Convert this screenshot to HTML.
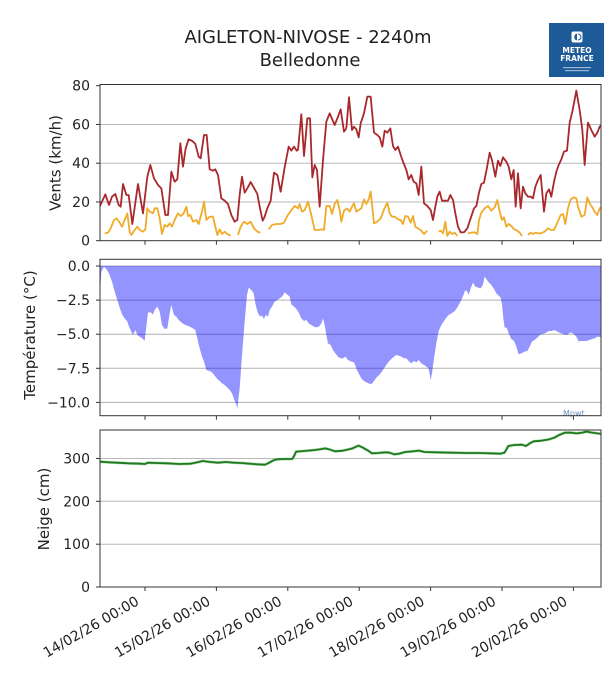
<!DOCTYPE html>
<html><head><meta charset="utf-8"><style>
html,body{margin:0;padding:0;background:#fff;}
svg{display:block;}
text{font-family:"DejaVu Sans","Liberation Sans",sans-serif;fill:#222;}
</style></head><body>
<svg width="611" height="682" viewBox="0 0 611 682" xmlns="http://www.w3.org/2000/svg">
<defs>
<clipPath id="c1"><rect x="100" y="84.5" width="501" height="156.2"/></clipPath>
<clipPath id="c2"><rect x="100" y="259.3" width="501" height="156.4"/></clipPath>
<clipPath id="c3"><rect x="100" y="430" width="501" height="157"/></clipPath>
</defs>
<rect width="611" height="682" fill="#fff"/>

<!-- Title -->
<text x="308" y="43" font-size="18" text-anchor="middle">AIGLETON-NIVOSE - 2240m</text>
<text x="310" y="66" font-size="18" text-anchor="middle">Belledonne</text>

<!-- Logo -->
<rect x="549" y="23" width="55" height="54" fill="#1d5a98"/>
<rect x="571.5" y="31.5" width="11" height="11" rx="2" fill="#fff"/>
<path d="M577,33.5 A3.6,3.6 0 0 0 577,40.5 Z" fill="#1d5a98"/>
<path d="M578,34 A3,3 0 0 1 578,40" fill="none" stroke="#1d5a98" stroke-width="1"/>
<text x="577" y="53" font-size="7.5" font-weight="bold" text-anchor="middle" style="fill:#fff">METEO</text>
<text x="577" y="61" font-size="7.5" font-weight="bold" text-anchor="middle" style="fill:#fff">FRANCE</text>
<rect x="563" y="67" width="28" height="1.2" fill="#9fb8d8"/>
<rect x="565" y="70" width="24" height="1.2" fill="#9fb8d8"/>

<!-- ===== Panel 1: Vents ===== -->
<g stroke="#b8b8b8" stroke-width="1">
<line x1="100" y1="201.95" x2="601" y2="201.95"/>
<line x1="100" y1="163.2" x2="601" y2="163.2"/>
<line x1="100" y1="124.45" x2="601" y2="124.45"/>
</g>
<g clip-path="url(#c1)" fill="none" stroke-linejoin="round">
<g transform="translate(98,80) scale(0.33333)">
<path vector-effect="non-scaling-stroke" stroke="#a8282c" stroke-width="1.8" d="M5,380 L22,343 33,375 42,350 52,342 62,375 68,380 75,312 85,345 92,345 103,432 120,312 135,400 148,290 157,255 168,295 180,315 190,325 202,405 210,405 220,275 230,305 238,298 247,190 255,260 263,205 272,178 283,183 292,192 302,230 308,235 318,165 326,165 335,268 345,272 352,268 360,285 370,355 380,362 390,372 400,405 410,425 418,420 425,345 432,290 440,338 448,325 458,306 467,322 478,342 486,385 494,422 500,410 508,385 518,362 528,278 538,285 548,335 560,262 572,200 580,212 588,200 596,212 600,210 610,103 618,228 628,115 636,115 643,292 650,255 657,270 665,380 675,240 685,125 695,100 710,135 720,110 728,88 738,155 745,145"/>
<path vector-effect="non-scaling-stroke" stroke="#f0ab2a" stroke-width="1.8" d="M20,460 L30,458 38,445 48,420 56,415 65,428 72,440 80,420 88,400 95,455 100,465 110,450 118,440 125,450 135,455 142,448 148,385 155,395 165,400 170,385 178,385 185,415 192,462 200,435 208,440 215,430 222,440 230,420 240,400 248,408 256,402 265,380 270,408 277,405 285,425 295,420 302,432 312,395 318,365 325,420 335,410 345,410 352,440 358,465 365,448 372,462 380,455 388,462 398,467 M420,465 L428,440 438,425 448,432 458,425 468,445 478,455 487,458 M512,448 L522,435 535,432 548,432 558,428 568,408 580,390 590,378 600,385 605,372 612,395 620,390 630,365 640,405 650,450 660,450 670,448 678,450 685,378 695,378 702,402 710,372 718,360 725,390 730,425 738,392 748,385"/>
</g>
<g transform="translate(348,80) scale(0.33333)">
<path vector-effect="non-scaling-stroke" stroke="#a8282c" stroke-width="1.8" d="M-5,145 L3,52 12,150 18,140 25,148 32,172 38,130 48,100 58,50 68,50 78,158 88,165 95,172 103,200 110,152 118,158 127,145 135,198 142,210 150,200 158,225 165,245 175,270 182,298 190,285 197,305 205,310 212,345 220,260 228,370 238,378 248,390 255,420 262,380 268,350 275,335 282,362 290,362 300,362 307,345 315,360 322,400 330,440 338,457 348,457 358,445 368,415 378,385 385,378 393,338 400,312 408,308 416,268 425,218 432,240 442,290 450,242 457,258 465,232 475,245 482,260 490,298 497,270 503,380 510,280 518,385 525,320 532,340 540,350 548,350 555,355 562,320 570,300 578,285 588,395 595,340 603,328 610,350 618,305 625,275 632,255 640,238 648,215 657,212 665,128 673,95 685,32 695,90 703,150 710,255 720,128 730,150 740,170 748,158 755,140 765,130"/>
<path vector-effect="non-scaling-stroke" stroke="#f0ab2a" stroke-width="1.8" d="M-2,385 L5,395 12,380 18,370 25,395 32,390 40,385 48,358 55,372 62,358 68,335 78,430 88,425 98,415 108,388 118,368 125,400 132,410 140,410 150,418 158,420 165,432 172,408 180,410 188,428 195,408 202,440 210,445 218,450 228,462 238,452 M272,455 L278,452 285,460 292,425 298,468 305,455 312,462 320,458 328,468 M360,460 L370,458 380,457 388,462 393,420 400,398 410,385 420,378 430,392 440,382 448,360 455,395 462,420 468,412 475,440 482,432 490,438 498,448 505,450 515,458 522,468 M540,465 L548,458 555,462 562,458 570,460 578,460 590,455 600,445 610,450 618,450 628,428 638,405 645,402 652,432 660,385 668,358 678,352 685,355 690,380 700,410 710,405 718,352 725,370 733,382 740,395 748,405 755,385 765,380"/>
</g>
</g>
<rect x="100" y="84.5" width="501" height="156.2" fill="none" stroke="#333" stroke-width="1"/>
<g stroke="#333" stroke-width="1">
<line x1="96" y1="240.7" x2="100" y2="240.7"/><line x1="96" y1="201.95" x2="100" y2="201.95"/><line x1="96" y1="163.2" x2="100" y2="163.2"/><line x1="96" y1="124.45" x2="100" y2="124.45"/><line x1="96" y1="85.7" x2="100" y2="85.7"/>
<line x1="145" y1="240.7" x2="145" y2="244.7"/><line x1="216.4" y1="240.7" x2="216.4" y2="244.7"/><line x1="287.8" y1="240.7" x2="287.8" y2="244.7"/><line x1="359.2" y1="240.7" x2="359.2" y2="244.7"/><line x1="430.6" y1="240.7" x2="430.6" y2="244.7"/><line x1="502" y1="240.7" x2="502" y2="244.7"/><line x1="573.4" y1="240.7" x2="573.4" y2="244.7"/>
</g>
<g font-size="14" text-anchor="end">
<text x="90" y="245.7">0</text><text x="90" y="207">20</text><text x="90" y="168.2">40</text><text x="90" y="129.5">60</text><text x="90" y="90.7">80</text>
</g>
<text transform="translate(60.5,163) rotate(-90)" font-size="15" text-anchor="middle">Vents (km/h)</text>

<!-- ===== Panel 2: Température ===== -->
<g stroke="#b0b0b0" stroke-width="1">
<line x1="100" y1="266" x2="601" y2="266"/>
<line x1="100" y1="300.1" x2="601" y2="300.1"/>
<line x1="100" y1="334.2" x2="601" y2="334.2"/>
<line x1="100" y1="368.3" x2="601" y2="368.3"/>
<line x1="100" y1="402.4" x2="601" y2="402.4"/>
</g>
<g clip-path="url(#c2)">
<g transform="translate(98,255) scale(0.33333)">
<path fill="#0000ff" fill-opacity="0.42" d="M5,33 L5,135 10,50 18,35 25,42 33,55 42,80 50,110 58,135 65,158 72,178 80,190 88,200 93,215 100,230 105,240 112,225 118,240 125,245 133,250 140,258 145,215 150,172 158,172 165,178 170,165 178,155 185,170 192,210 200,222 208,220 215,175 220,150 228,180 235,185 242,195 250,202 258,208 268,212 275,215 285,220 292,225 298,250 305,280 312,305 318,320 325,345 335,348 342,352 350,362 358,372 365,378 372,385 380,390 388,398 395,405 402,415 408,432 415,448 418,462 425,400 432,300 440,200 447,120 452,98 460,105 467,115 473,150 480,175 487,185 492,182 498,192 503,180 510,185 515,165 522,155 530,140 537,135 545,130 552,125 560,112 567,118 575,125 580,148 588,155 595,162 602,172 610,190 618,198 625,195 632,205 640,210 648,215 655,217 663,215 670,205 675,190 680,210 685,240 690,265 698,270 705,285 712,295 720,305 728,310 735,310 742,305 750,315 L750,33 Z"/>
</g>
<g transform="translate(348,255) scale(0.33333)">
<path fill="#0000ff" fill-opacity="0.42" d="M0,33 L0,315 10,320 18,322 25,340 32,355 40,370 48,378 55,382 62,385 70,388 78,378 85,368 92,362 100,352 108,340 115,330 122,320 130,312 138,305 145,300 152,302 160,305 168,310 175,310 182,318 190,325 198,318 205,322 212,315 220,325 228,330 235,335 242,340 248,375 252,355 258,310 265,265 272,228 280,210 288,198 295,188 302,180 310,175 318,170 325,162 332,150 340,135 347,118 352,105 358,110 362,120 368,100 375,83 382,95 390,98 398,100 405,88 410,65 415,72 422,82 430,90 437,100 445,115 452,122 458,128 462,148 466,190 470,218 476,218 482,235 490,252 498,258 505,275 512,298 520,295 530,290 538,288 545,275 552,260 560,255 568,248 578,238 588,236 596,232 603,228 612,228 618,225 625,228 632,232 640,235 648,238 656,240 663,235 670,232 678,238 685,245 692,260 698,258 705,258 715,258 725,255 732,252 740,250 748,245 755,246 765,246 L765,33 Z"/>
</g>
</g>
<text x="563" y="416" font-size="8" style="fill:#6a90c0">Mpwt</text>
<rect x="100" y="259.3" width="501" height="156.4" fill="none" stroke="#333" stroke-width="1"/>
<g stroke="#333" stroke-width="1">
<line x1="96" y1="266" x2="100" y2="266"/><line x1="96" y1="300.1" x2="100" y2="300.1"/><line x1="96" y1="334.2" x2="100" y2="334.2"/><line x1="96" y1="368.3" x2="100" y2="368.3"/><line x1="96" y1="402.4" x2="100" y2="402.4"/>
<line x1="145" y1="415.7" x2="145" y2="419.7"/><line x1="216.4" y1="415.7" x2="216.4" y2="419.7"/><line x1="287.8" y1="415.7" x2="287.8" y2="419.7"/><line x1="359.2" y1="415.7" x2="359.2" y2="419.7"/><line x1="430.6" y1="415.7" x2="430.6" y2="419.7"/><line x1="502" y1="415.7" x2="502" y2="419.7"/><line x1="573.4" y1="415.7" x2="573.4" y2="419.7"/>
</g>
<g font-size="14" text-anchor="end">
<text x="90" y="271">0.0</text><text x="90" y="305.1">−2.5</text><text x="90" y="339.2">−5.0</text><text x="90" y="373.3">−7.5</text><text x="90" y="407.4">−10.0</text>
</g>
<text transform="translate(35,335) rotate(-90)" font-size="15" text-anchor="middle">Température (°C)</text>

<!-- ===== Panel 3: Neige ===== -->
<g stroke="#b8b8b8" stroke-width="1">
<line x1="100" y1="458.5" x2="601" y2="458.5"/>
<line x1="100" y1="501.3" x2="601" y2="501.3"/>
<line x1="100" y1="544.2" x2="601" y2="544.2"/>
</g>
<g clip-path="url(#c3)" fill="none">
<g transform="translate(0,420) scale(0.38956,0.33333)">
<path vector-effect="non-scaling-stroke" stroke="#6fc06f" stroke-width="3" stroke-opacity="0.5" stroke-linejoin="round" d="M257,125 L280,127 300,128 330,130 360,131 372,132 380,128 400,129 430,130 460,132 490,131 510,126 520,123 540,126 560,128 580,126 600,128 620,129 640,131 660,133 680,134 688,130 700,122 710,118 730,117 750,117 755,108 760,95 780,93 800,91 820,88 835,85 845,88 860,94 880,92 895,88 905,85 920,77 930,82 945,92 955,100 970,99 990,97 1000,98 1012,103 1025,101 1040,96 1060,94 1075,92 1090,96 1120,97 1160,98 1200,99 1230,99 1260,100 1285,101 1295,98 1305,78 1320,75 1340,74 1350,78 1360,70 1370,64 1390,62 1410,58 1425,52 1435,45 1450,38 1465,38 1480,40 1495,38 1505,35 1520,38 1545,42"/>
<path vector-effect="non-scaling-stroke" stroke="#1e7a1e" stroke-width="1.8" stroke-linejoin="round" d="M257,125 L280,127 300,128 330,130 360,131 372,132 380,128 400,129 430,130 460,132 490,131 510,126 520,123 540,126 560,128 580,126 600,128 620,129 640,131 660,133 680,134 688,130 700,122 710,118 730,117 750,117 755,108 760,95 780,93 800,91 820,88 835,85 845,88 860,94 880,92 895,88 905,85 920,77 930,82 945,92 955,100 970,99 990,97 1000,98 1012,103 1025,101 1040,96 1060,94 1075,92 1090,96 1120,97 1160,98 1200,99 1230,99 1260,100 1285,101 1295,98 1305,78 1320,75 1340,74 1350,78 1360,70 1370,64 1390,62 1410,58 1425,52 1435,45 1450,38 1465,38 1480,40 1495,38 1505,35 1520,38 1545,42"/>
</g>
</g>
<rect x="100" y="430" width="501" height="157" fill="none" stroke="#333" stroke-width="1"/>
<g stroke="#333" stroke-width="1">
<line x1="96" y1="587" x2="100" y2="587"/><line x1="96" y1="544.2" x2="100" y2="544.2"/><line x1="96" y1="501.3" x2="100" y2="501.3"/><line x1="96" y1="458.5" x2="100" y2="458.5"/>
<line x1="145" y1="587" x2="145" y2="591"/><line x1="216.4" y1="587" x2="216.4" y2="591"/><line x1="287.8" y1="587" x2="287.8" y2="591"/><line x1="359.2" y1="587" x2="359.2" y2="591"/><line x1="430.6" y1="587" x2="430.6" y2="591"/><line x1="502" y1="587" x2="502" y2="591"/><line x1="573.4" y1="587" x2="573.4" y2="591"/>
</g>
<g font-size="14" text-anchor="end">
<text x="90" y="592">0</text><text x="90" y="549.2">100</text><text x="90" y="506.3">200</text><text x="90" y="463.5">300</text>
</g>
<text transform="translate(49,509) rotate(-90)" font-size="15" text-anchor="middle">Neige (cm)</text>

<!-- X tick labels -->
<g font-size="14" text-anchor="end">
<text transform="translate(140,604) rotate(-30)">14/02/26 00:00</text>
<text transform="translate(211.4,604) rotate(-30)">15/02/26 00:00</text>
<text transform="translate(282.8,604) rotate(-30)">16/02/26 00:00</text>
<text transform="translate(354.2,604) rotate(-30)">17/02/26 00:00</text>
<text transform="translate(425.6,604) rotate(-30)">18/02/26 00:00</text>
<text transform="translate(497,604) rotate(-30)">19/02/26 00:00</text>
<text transform="translate(568.4,604) rotate(-30)">20/02/26 00:00</text>
</g>
</svg>
</body></html>
